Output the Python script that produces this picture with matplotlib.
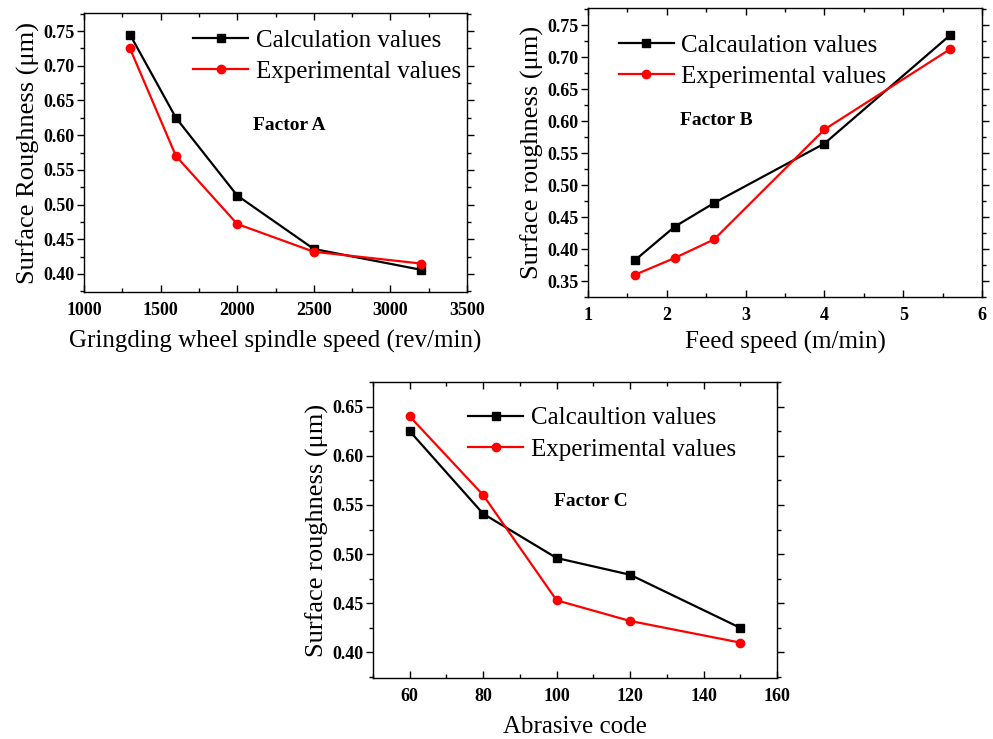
import matplotlib
matplotlib.use("Agg")
import matplotlib.pyplot as plt
from matplotlib.ticker import MultipleLocator, AutoMinorLocator, FormatStrFormatter

plt.rcParams['font.family'] = ['Liberation Serif', 'DejaVu Serif']

# Factor A
a_x = [1300, 1600, 2000, 2500, 3200]
a_calc = [0.745, 0.625, 0.513, 0.436, 0.406]
a_exp = [0.725, 0.570, 0.472, 0.432, 0.415]

# Factor B
b_x = [1.6, 2.1, 2.6, 4.0, 5.6]
b_calc = [0.383, 0.435, 0.472, 0.565, 0.735]
b_exp = [0.360, 0.386, 0.415, 0.587, 0.713]

# Factor C
c_x = [60, 80, 100, 120, 150]
c_calc = [0.625, 0.541, 0.496, 0.479, 0.425]
c_exp = [0.640, 0.560, 0.453, 0.432, 0.410]

W, H = 993, 739
fig = plt.figure(figsize=(W / 100, H / 100), dpi=100)


def add_ax(l, t, r, b):
    return fig.add_axes([l / W, 1 - b / H, (r - l) / W, (b - t) / H])


def style(ax, xmaj, ymaj):
    ax.xaxis.set_major_locator(MultipleLocator(xmaj))
    ax.yaxis.set_major_locator(MultipleLocator(ymaj))
    ax.xaxis.set_minor_locator(AutoMinorLocator(2))
    ax.yaxis.set_minor_locator(AutoMinorLocator(2))
    ax.yaxis.set_major_formatter(FormatStrFormatter('%.2f'))
    ax.tick_params(axis='x', which='both', direction='in', top=True)
    ax.tick_params(axis='y', which='both', direction='out', right=True)
    ax.tick_params(which='major', length=5, width=1)
    ax.tick_params(which='minor', length=3, width=1)
    ax.tick_params(labelsize=13)
    ax.tick_params(axis='x', pad=7)
    ax.tick_params(axis='y', pad=1.5)
    for s in ax.spines.values():
        s.set_linewidth(1.0)


def draw(ax, x, calc, exp, l1, l2, factor, fx, fy, leg_anchor):
    ax.plot(x, calc, '-s', color='black', lw=1.6, ms=6, label=l1)
    ax.plot(x, exp, '-o', color='red', lw=1.6, ms=6, label=l2)
    ax.legend(loc='upper left', bbox_to_anchor=leg_anchor, frameon=False,
              fontsize=18, handlelength=2.2, handletextpad=0.3,
              labelspacing=0.35, borderpad=0.2)
    ax.text(fx, fy, factor, transform=ax.transAxes, ha='center', va='center',
            fontsize=14, fontweight='bold')


axA = add_ax(84, 13, 467, 292)
draw(axA, a_x, a_calc, a_exp, 'Calculation values', 'Experimental values',
     'Factor A', 0.535, 0.597, (0.24, 1.005))
axA.set_xlim(1000, 3500)
axA.set_ylim(0.374, 0.776)
style(axA, 500, 0.05)
axA.set_xlabel('Gringding wheel spindle speed (rev/min)', fontsize=18, labelpad=8)
axA.set_ylabel('Surface Roughness (μm)', fontsize=19, labelpad=3)

axB = add_ax(588, 8, 982, 297)
draw(axB, b_x, b_calc, b_exp, 'Calcaulation values', 'Experimental values',
     'Factor B', 0.325, 0.609, (0.033, 0.97))
axB.set_xlim(1, 6)
axB.set_ylim(0.325, 0.777)
style(axB, 1, 0.05)
axB.set_xlabel('Feed speed (m/min)', fontsize=18, labelpad=5)
axB.set_ylabel('Surface roughness (μm)', fontsize=19, labelpad=3)

axC = add_ax(373, 382, 777, 678)
draw(axC, c_x, c_calc, c_exp, 'Calcaultion values', 'Experimental values',
     'Factor C', 0.54, 0.595, (0.192, 0.975))
axC.set_xlim(50, 160)
axC.set_ylim(0.374, 0.675)
style(axC, 20, 0.05)
axC.set_xlabel('Abrasive code', fontsize=18, labelpad=8)
axC.set_ylabel('Surface roughness (μm)', fontsize=19, labelpad=3)

for ax in (axA, axB, axC):
    for lab in ax.get_xticklabels() + ax.get_yticklabels():
        lab.set_fontweight('bold')

fig.savefig('out.png', dpi=100)
